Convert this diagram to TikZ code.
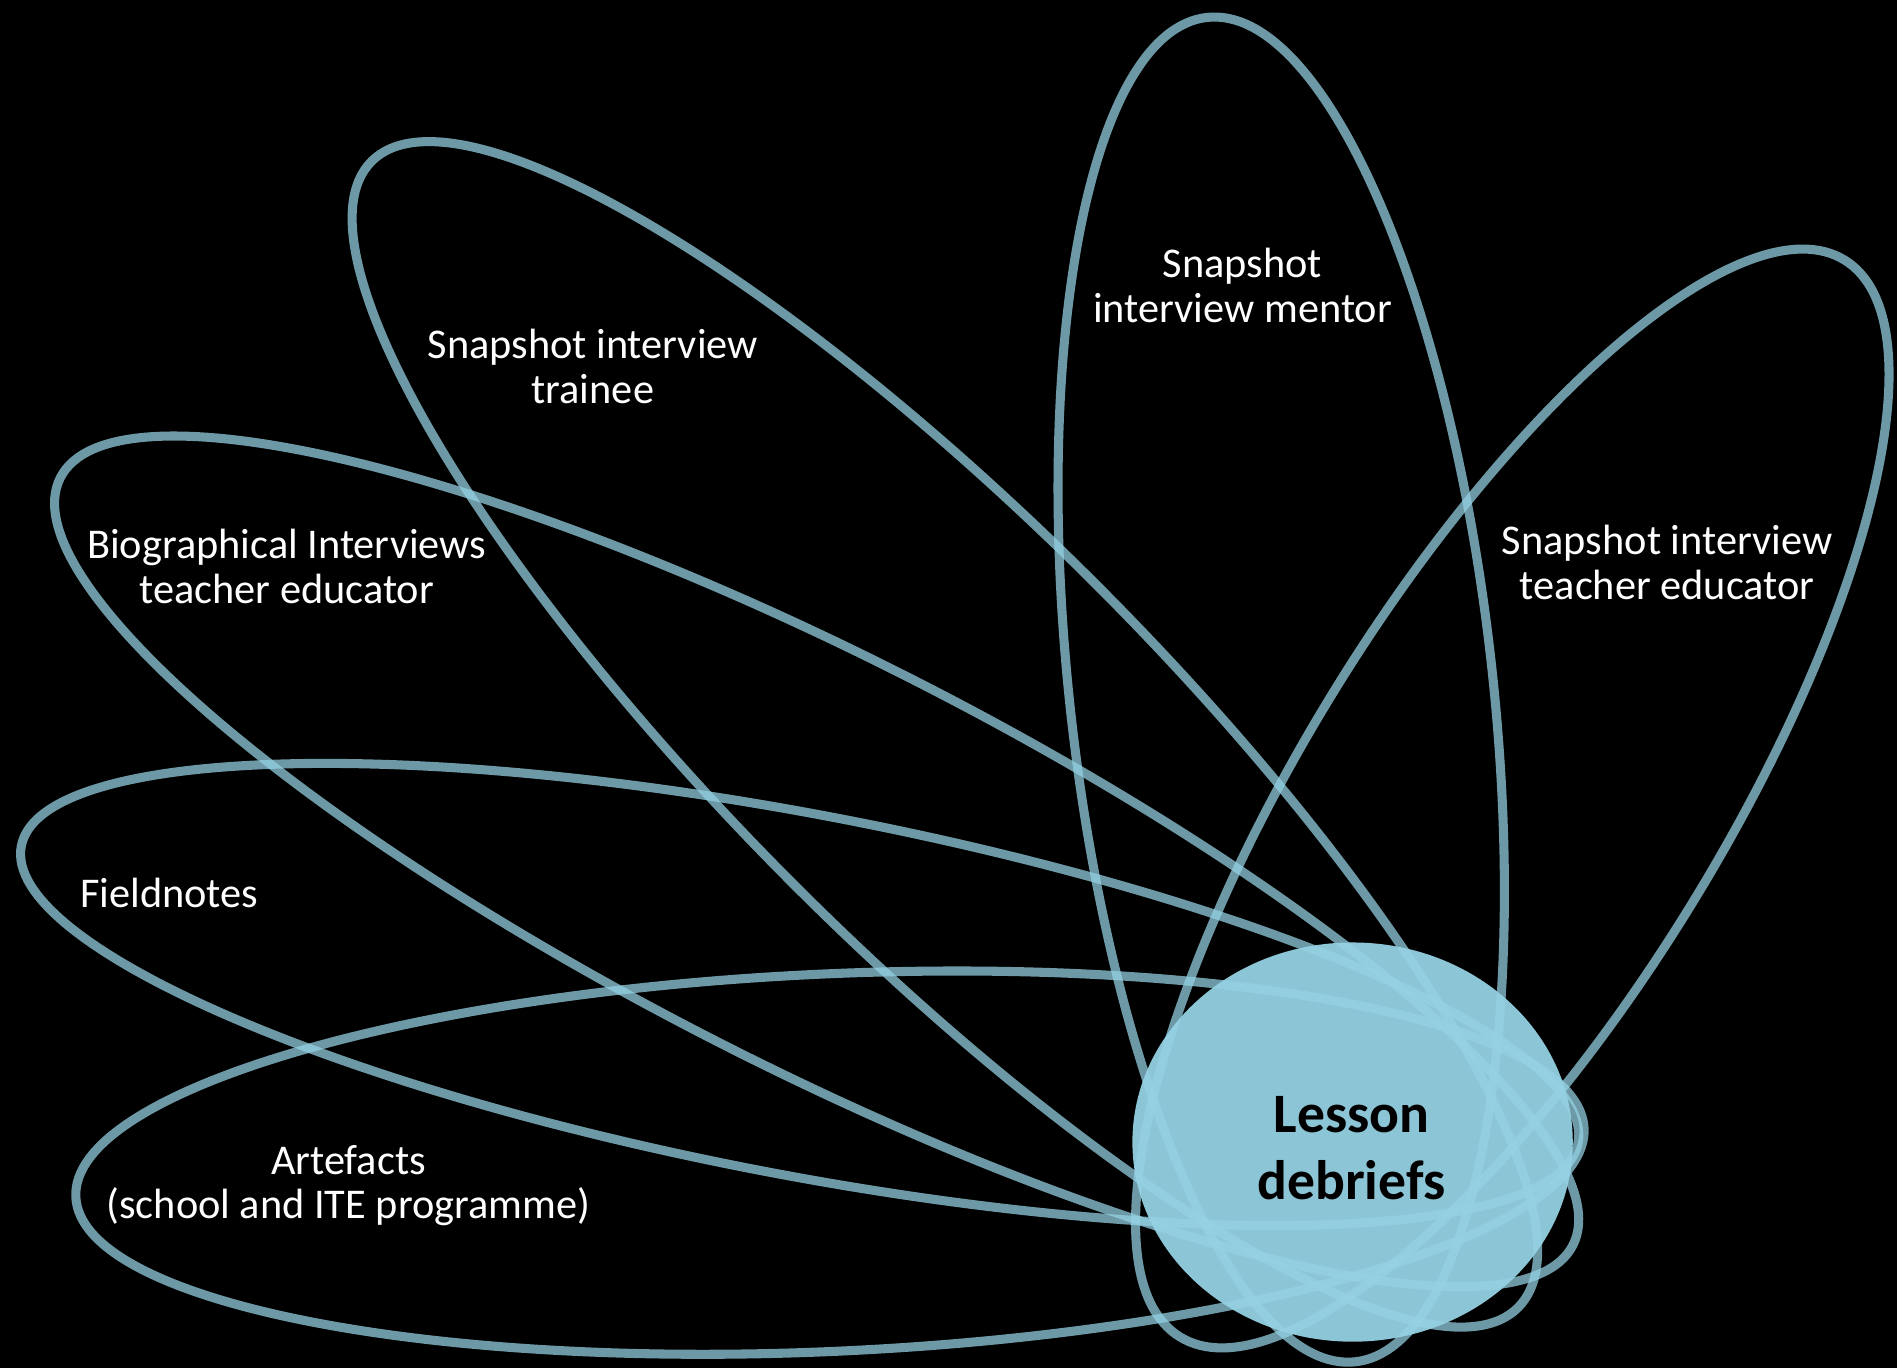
\documentclass[tikz,border=0pt]{standalone}
\usepackage{fontspec}
\setmainfont{Carlito}
\usetikzlibrary{positioning}
\definecolor{petalblue}{RGB}{149,210,227}
\definecolor{hubblue}{RGB}{140,197,213}

\begin{document}
\begin{tikzpicture}[
  x=1pt, y=-1pt,
  petal/.style={draw=petalblue, draw opacity=0.73, line width=7.5pt},
  petaltext/.style={text=white, align=center, font=\fontsize{35}{37}\selectfont},
  hubtext/.style={text=black, align=center, font=\bfseries\fontsize{46}{55}\selectfont}
]
  \useasboundingbox (0,0) rectangle (1568,1131);
  \fill[black] (0,0) rectangle (1568,1131);
  % centre disc
  \fill[hubblue] (1118,944) ellipse [x radius=182pt, y radius=165pt];
  % petals
  \draw[petal, rotate around={2.6:(686,961)}] (686,961) ellipse [x radius=624pt, y radius=156pt];
  \draw[petal, rotate around={-10.8:(661,822)}] (661,822) ellipse [x radius=655pt, y radius=149pt];
  \draw[petal, rotate around={-26.9:(675,712)}] (675,712) ellipse [x radius=701pt, y radius=170pt];
  \draw[petal, rotate around={-45:(781,607)}] (781,607) ellipse [x radius=670pt, y radius=176pt];
  \draw[petal, rotate around={96.3:(1059,570)}] (1059,570) ellipse [x radius=559pt, y radius=175pt];
  \draw[petal, rotate around={58.3:(1250,660)}] (1250,660) ellipse [x radius=523pt, y radius=172pt];
  % texts
  \node[petaltext] (mentor) at (1027,236) {Snapshot\\interview mentor};
  \node[petaltext] (trainee) at (490,303) {Snapshot interview\\trainee};
  \node[petaltext] (bio) at (237,468) {Biographical Interviews\\teacher educator};
  \node[petaltext] (tutor) at (1378,465) {Snapshot interview\\teacher educator};
  \node[petaltext] (field) at (140,738) {Fieldnotes};
  \node[petaltext] (artefacts) at (288,980) {Artefacts\\(school and ITE programme)};
  \node[hubtext] (debrief) at (1117,949) {Lesson\\debriefs};
\end{tikzpicture}
\end{document}
